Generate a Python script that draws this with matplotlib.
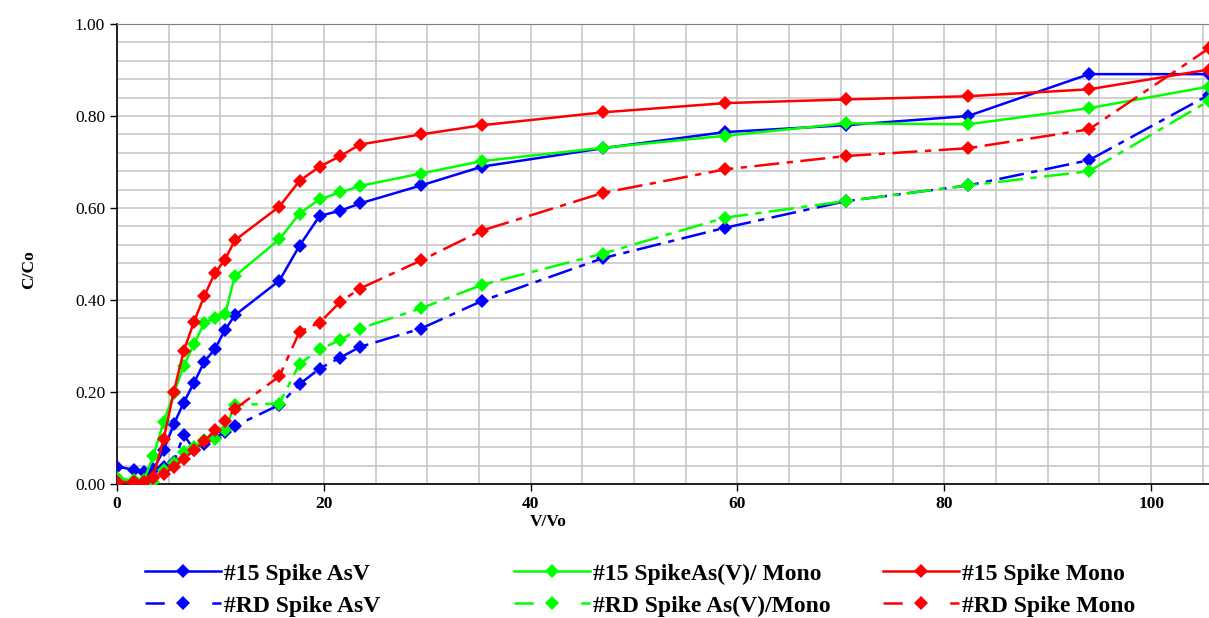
import matplotlib
matplotlib.use('Agg')
import matplotlib.pyplot as plt
from matplotlib.lines import Line2D
from matplotlib.ticker import MultipleLocator, FormatStrFormatter

# V/Vo (shared by all six series)
vv = [0, 1.6, 2.6, 3.5, 4.5, 5.5, 6.45, 7.45, 8.45, 9.45, 10.45, 11.4,
      15.7, 17.65, 19.6, 21.6, 23.5, 29.4, 35.3, 47.0, 58.8, 70.5, 82.3, 94.0, 105.6]

# C/Co
s15_asv = [0.038, 0.031, 0.026, 0.031, 0.073, 0.130, 0.177, 0.220, 0.266, 0.293, 0.335, 0.367,
           0.442, 0.518, 0.583, 0.594, 0.610, 0.649, 0.690, 0.730, 0.765, 0.780, 0.800, 0.891, 0.891]
s15_asv_mono = [0.012, 0.008, 0.008, 0.060, 0.134, 0.197, 0.257, 0.304, 0.351, 0.360, 0.369, 0.452,
                0.532, 0.588, 0.619, 0.634, 0.648, 0.675, 0.702, 0.731, 0.757, 0.784, 0.782, 0.817, 0.864]
s15_mono = [0.004, 0.004, 0.004, 0.016, 0.097, 0.201, 0.289, 0.353, 0.409, 0.458, 0.488, 0.530,
            0.603, 0.659, 0.690, 0.713, 0.738, 0.760, 0.780, 0.808, 0.828, 0.836, 0.843, 0.858, 0.901]
rd_asv = [0.008, 0.006, 0.006, 0.032, 0.037, 0.048, 0.107, 0.075, 0.086, 0.100, 0.112, 0.126,
          0.172, 0.217, 0.251, 0.275, 0.298, 0.338, 0.398, 0.491, 0.557, 0.615, 0.649, 0.704, 0.846]
rd_asv_mono = [0.012, 0.006, 0.006, 0.005, 0.030, 0.045, 0.070, 0.080, 0.096, 0.097, 0.118, 0.172,
               0.175, 0.261, 0.293, 0.313, 0.338, 0.382, 0.433, 0.501, 0.579, 0.615, 0.649, 0.680, 0.833]
rd_mono = [0.004, 0.004, 0.004, 0.012, 0.022, 0.037, 0.055, 0.073, 0.093, 0.117, 0.136, 0.163,
           0.234, 0.331, 0.351, 0.396, 0.425, 0.486, 0.551, 0.633, 0.684, 0.713, 0.730, 0.771, 0.947]

labels = ['#15 Spike AsV', '#RD Spike AsV',
          '#15 SpikeAs(V)/ Mono', '#RD Spike As(V)/Mono',
          '#15 Spike Mono', '#RD Spike Mono']

BLUE, GREEN, RED = '#0000FF', '#00FF00', '#FF0000'
DASH = (0, (10, 3, 2.5, 3))
LEG_DASH = (0, (7.7, 19))

plt.rcParams['font.family'] = ['Liberation Serif', 'DejaVu Serif']

fig = plt.figure(figsize=(12.09, 6.18), dpi=100)
ax = fig.add_axes([117 / 1209, 1 - 484 / 618, 1 - 117 / 1209, 460 / 618])

series = [(s15_asv, BLUE, '-'), (rd_asv, BLUE, DASH),
          (s15_asv_mono, GREEN, '-'), (rd_asv_mono, GREEN, DASH),
          (s15_mono, RED, '-'), (rd_mono, RED, DASH)]

handles = []
for (vals, col, ls), lab in zip(series, labels):
    ax.plot(vv, vals, color=col, linestyle=ls, linewidth=1.8,
            marker='D', markersize=7.5, markeredgewidth=0, zorder=3)
    # proxy handle for the legend (the dashed ones read as "- <> -")
    handles.append(Line2D([], [], color=col, linewidth=1.8,
                          linestyle='-' if ls == '-' else LEG_DASH,
                          marker='D', markersize=7, markeredgewidth=0, label=lab))

ax.set_xlim(0, 105.6)
ax.set_ylim(0, 1.0)
ax.xaxis.set_major_locator(MultipleLocator(20))
ax.xaxis.set_minor_locator(MultipleLocator(5))
ax.yaxis.set_major_locator(MultipleLocator(0.2))
ax.yaxis.set_minor_locator(MultipleLocator(0.04))
ax.yaxis.set_major_formatter(FormatStrFormatter('%.2f'))

ax.grid(True, which='both', color='#c4c4c4', linewidth=1.1, zorder=0)
ax.set_axisbelow(True)
ax.tick_params(which='major', direction='out', length=5, width=1, labelsize=12.5)
ax.tick_params(which='minor', length=0)
for t in ax.get_xticklabels():
    t.set_fontweight('bold')

ax.spines['right'].set_visible(False)
ax.spines['top'].set_color('#808080')
ax.spines['left'].set_linewidth(1.2)
ax.spines['bottom'].set_linewidth(1.2)

ax.set_xlabel('V/Vo', fontsize=12.5, fontweight='bold')
ax.xaxis.set_label_coords(0.395, -0.066)
ax.set_ylabel('C/Co', fontsize=12.5, fontweight='bold')
ax.yaxis.set_label_coords(-0.073, 0.465)

# three legend columns placed like the original
col_x = [145 / 1209, 514 / 1209, 883 / 1209]
for i, x0 in enumerate(col_x):
    fig.legend(handles=handles[2 * i:2 * i + 2], loc='upper left',
               bbox_to_anchor=(x0, 1 - 563 / 618), frameon=False,
               prop={'weight': 'bold', 'size': 17}, handlelength=3.2,
               handletextpad=0.15, labelspacing=0.45, borderpad=0, borderaxespad=0)

fig.savefig('out.png', dpi=100)
